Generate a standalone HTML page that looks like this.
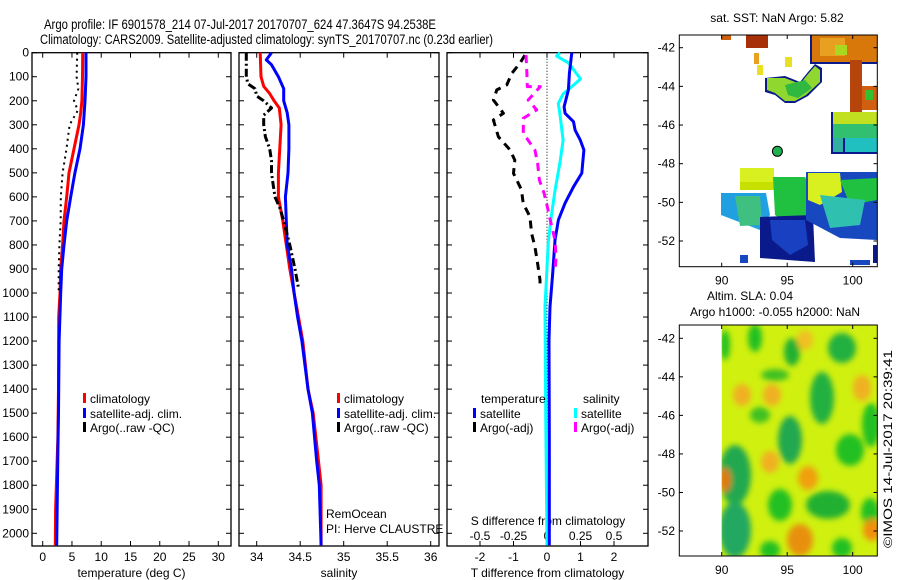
<!DOCTYPE html>
<html><head><meta charset="utf-8"><style>
body{margin:0;background:#fff;}
svg{display:block;font-family:"Liberation Sans",sans-serif;}
text{fill:#000;}
</style></head><body>
<svg id="c" width="900" height="580" viewBox="0 0 900 580">
<defs>
<filter id="bl" x="-50%" y="-50%" width="200%" height="200%"><feGaussianBlur stdDeviation="3"/></filter>
<clipPath id="clipB"><rect x="721.7" y="325" width="155.3" height="231"/></clipPath>
</defs>
<text x="44" y="29" font-size="13.5" textLength="392" lengthAdjust="spacingAndGlyphs">Argo profile: IF 6901578_214 07-Jul-2017 20170707_624 47.3647S 94.2538E</text>
<text x="40" y="44" font-size="13.5" textLength="453" lengthAdjust="spacingAndGlyphs">Climatology: CARS2009. Satellite-adjusted climatology: synTS_20170707.nc (0.23d earlier)</text>
<g id="plots"></g>
<!-- top map -->
<g>
<text x="777" y="22" font-size="12" text-anchor="middle">sat. SST: NaN Argo: 5.82</text>
<g>
<rect x="810" y="35" width="67" height="29" fill="#0a1a8a"/>
<rect x="812" y="35" width="65" height="27" fill="#d9780a"/>
<rect x="820" y="38" width="25" height="18" fill="#e8a020"/>
<rect x="835" y="45" width="12" height="10" fill="#a8d820"/>
<rect x="850" y="60" width="12" height="52" fill="#b5450a"/>
<rect x="862" y="86" width="15" height="24" fill="#d06010"/>
<rect x="865" y="90" width="8" height="10" fill="#30c030"/>
<rect x="746" y="35" width="22" height="13" fill="#a83008"/>
<rect x="721" y="35" width="10" height="5" fill="#d06010"/>
<rect x="754" y="53" width="5" height="11" fill="#e8a020"/>
<rect x="757" y="65" width="6" height="10" fill="#e8e020"/>
<rect x="785" y="57" width="7" height="10" fill="#e8e020"/>
<polygon points="765,78 785,76 800,82 808,72 815,64 822,68 822,82 808,96 795,103 785,103 775,95 765,92" fill="#0a1a8a"/>
<polygon points="767,78 785,78 800,84 808,74 815,66 820,70 820,82 806,95 795,101 785,101 775,93 767,90" fill="#90d830"/>
<polygon points="785,85 805,80 812,88 798,98 788,95" fill="#30b840"/>
<rect x="831" y="112" width="46" height="42" fill="#0a1a8a"/>
<rect x="833" y="112" width="44" height="12" fill="#c0e020"/>
<rect x="833" y="124" width="44" height="14" fill="#30c070"/>
<rect x="845" y="138" width="32" height="14" fill="#20c0c0"/>
<rect x="833" y="138" width="10" height="14" fill="#30b0a0"/>
<rect x="740" y="168" width="34" height="22" fill="#d8f020"/>
<rect x="740" y="182" width="34" height="8" fill="#c8e000"/>
<polygon points="773,177 805,177 812,190 813,220 790,225 775,215" fill="#20c040"/>
<polygon points="721,193 766,193 770,215 760,230 721,215" fill="#20a0e0"/>
<polygon points="735,196 760,196 762,225 740,226" fill="#40c080"/>
<polygon points="760,217 813,215 815,262 760,258" fill="#0a1a8a"/>
<polygon points="770,220 805,220 808,245 790,255 772,240" fill="#1840c0"/>
<polygon points="806,172 877,172 877,240 840,238 806,220" fill="#1848c0"/>
<polygon points="808,173 840,173 842,192 820,205 808,200" fill="#d8f020"/>
<polygon points="840,180 877,178 877,200 850,205" fill="#20c040"/>
<polygon points="820,195 865,200 860,225 830,228" fill="#30c0b0"/>
<rect x="740" y="255" width="8" height="8" fill="#1848c0"/>
<rect x="850" y="260" width="20" height="5" fill="#1848c0"/>
<rect x="873" y="245" width="4" height="18" fill="#0a1a8a"/>
</g>
<circle cx="777.4" cy="151.3" r="5" fill="#20b050" stroke="#000" stroke-width="1"/>
<rect x="679.3" y="35" width="198" height="231.7" fill="none" stroke="#000"/>
<g id="mapAxTop"></g>
</g>
<text x="750" y="300" font-size="12" text-anchor="middle">Altim. SLA: 0.04</text>
<text x="775" y="316" font-size="12" text-anchor="middle">Argo h1000: -0.055 h2000: NaN</text>
<!-- bottom map -->
<g>
<g clip-path="url(#clipB)">
<rect x="721.7" y="325" width="155.3" height="231" fill="#d0f010"/>
<g filter="url(#bl)">
<ellipse cx="725" cy="345" rx="5" ry="15" fill="#20c020"/>
<ellipse cx="755" cy="338" rx="7" ry="14" fill="#20c020"/>
<ellipse cx="792" cy="352" rx="8" ry="14" fill="#20b030"/>
<ellipse cx="842" cy="348" rx="14" ry="15" fill="#20b040"/>
<ellipse cx="775" cy="375" rx="14" ry="6" fill="#40c020"/>
<ellipse cx="822" cy="398" rx="12" ry="26" fill="#20b040"/>
<ellipse cx="871" cy="425" rx="9" ry="22" fill="#20c020"/>
<ellipse cx="790" cy="440" rx="12" ry="24" fill="#20a850"/>
<ellipse cx="850" cy="450" rx="14" ry="16" fill="#20c020"/>
<ellipse cx="735" cy="475" rx="16" ry="30" fill="#20a850"/>
<ellipse cx="735" cy="530" rx="16" ry="28" fill="#20a860"/>
<ellipse cx="780" cy="505" rx="12" ry="16" fill="#20c020"/>
<ellipse cx="828" cy="505" rx="22" ry="14" fill="#20b030"/>
<ellipse cx="870" cy="512" rx="9" ry="14" fill="#20c020"/>
<ellipse cx="770" cy="550" rx="10" ry="9" fill="#20c020"/>
<ellipse cx="842" cy="548" rx="10" ry="10" fill="#20c020"/>
<ellipse cx="760" cy="415" rx="10" ry="8" fill="#40c020"/>
<ellipse cx="725" cy="480" rx="6" ry="12" fill="#e07810"/>
<ellipse cx="800" cy="540" rx="13" ry="16" fill="#e89010"/>
<ellipse cx="808" cy="478" rx="10" ry="12" fill="#f0a010"/>
<ellipse cx="770" cy="462" rx="9" ry="11" fill="#f0b020"/>
<ellipse cx="862" cy="388" rx="9" ry="13" fill="#f0b020"/>
<ellipse cx="772" cy="395" rx="9" ry="11" fill="#f0b020"/>
<ellipse cx="872" cy="530" rx="9" ry="11" fill="#f09010"/>
<ellipse cx="742" cy="395" rx="9" ry="11" fill="#f0b020"/>
<ellipse cx="805" cy="340" rx="8" ry="10" fill="#f0c020"/>
</g>
</g>
<rect x="679.3" y="325" width="198" height="231" fill="none" stroke="#000"/>
<g id="mapAxBot"></g>
<text transform="translate(892,548) rotate(-90)" font-size="12" textLength="198" lengthAdjust="spacingAndGlyphs">©IMOS 14-Jul-2017 20:39:41</text>
</g>
</svg>
<script>
// ---- data ----
const depthTicks = [0,100,200,300,400,500,600,700,800,900,1000,1100,1200,1300,1400,1500,1600,1700,1800,1900,2000];
const tempTicks = [0,5,10,15,20,25,30];
const salTicks = [34,34.5,35,35.5,36];
const salTickLabels = ["34","34.5","35","35.5","36"];
const dTTicks = [-2,-1,0,1,2];
const dSTicks = [-0.5,-0.25,0,0.25,0.5];
const dSTickLabels = ["-0.5","-0.25","0","0.25","0.5"];

const tClimDepth = [0,100,200,250,300,400,500,600,700,800,900,1000,1100,1400,1600,1900,2050];
const tClimVal   = [6.83,6.8,6.7,6.5,6.2,5.35,4.5,4.1,3.64,3.4,3.07,2.95,2.73,2.7,2.6,2.2,2.15];
const tSatDepth = [0,100,200,300,400,500,600,700,800,900,1000,1200,1500,1650,2050];
const tSatVal   = [7.4,7.4,7.23,6.95,6.37,5.5,4.78,4.1,3.64,3.24,3.07,2.8,2.7,2.6,2.4];
const tArgoDepth = [0,100,150,200,240,300,400,500,600,700,800,900,990];
const tArgoVal   = [5.9,5.8,6.1,5.35,6.0,4.6,4.07,3.4,3.1,3.07,2.85,2.73,2.73];

const sClimDepth = [0,100,140,170,200,230,300,500,600,700,800,900,1000,1100,1200,1400,1500,1700,1800,2050];
const sClimVal   = [34.04,34.05,34.08,34.15,34.2,34.26,34.28,34.25,34.25,34.3,34.34,34.38,34.43,34.48,34.53,34.59,34.65,34.71,34.74,34.74];
const sSatDepth = [0,30,50,100,150,200,250,300,400,500,600,700,800,900,1000,1100,1200,1400,1500,1700,1800,2050];
const sSatVal   = [34.17,34.11,34.17,34.25,34.31,34.31,34.35,34.37,34.37,34.36,34.33,34.34,34.35,34.4,34.43,34.47,34.52,34.59,34.64,34.69,34.72,34.74];
const sArgoDepth = [0,100,130,150,180,200,230,260,300,350,400,450,500,550,600,650,700,800,900,980];
const sArgoVal   = [33.88,33.88,33.9,33.98,34.0,34.08,34.17,34.08,34.08,34.1,34.15,34.17,34.17,34.19,34.21,34.27,34.31,34.38,34.44,34.48];

const dTSatDepth = [0,86,155,225,252,287,322,363,405,501,558,626,696,780,918,1057,1195,1600,2050];
const dTSatVal   = [0.74,0.67,0.64,0.51,0.54,0.79,0.84,0.99,1.1,1.04,0.79,0.54,0.34,0.24,0.17,0.09,0.06,0.07,0.07];
const dTArgoDepth = [10,44,86,134,155,197,252,280,350,405,447,502,571,627,682,752,807,877,946,960];
const dTArgoVal   = [-0.66,-0.81,-1.05,-1.2,-1.5,-1.6,-1.3,-1.6,-1.45,-1.1,-0.96,-1.0,-0.76,-0.71,-0.51,-0.46,-0.36,-0.28,-0.21,-0.21];
const dSSatDepth = [0,14,42,109,134,172,212,258,364,456,574,669,786,920,1055,1500,2050];
const dSSatVal   = [0.097,0.072,0.16,0.25,0.2,0.12,0.084,0.097,0.12,0.097,0.06,0.035,0.01,-0.002,-0.015,-0.01,0.0];
const dSArgoDepth = [10,86,141,141,197,238,273,335,405,460,530,585,641,710,780,850,910];
const dSArgoVal   = [-0.157,-0.15,-0.147,-0.05,-0.14,-0.077,-0.177,-0.177,-0.09,-0.07,-0.057,-0.022,0.002,0.03,0.06,0.067,0.06];

const mapLatTicks = [-42,-44,-46,-48,-50,-52];
const mapLonTicks = [90,95,100];

// ---- axes ----
const NS="http://www.w3.org/2000/svg";
const Y0=52.7, YS=0.2403, YB=546;
const yD = d => Y0 + d*YS;
const P1={l:32,r:231}, P2={l:239,r:439}, P3={l:447,r:648};
const xT = v => 42.7 + v*5.853;
const xS = v => 256.7 + (v-34)*87;
const xDT = v => 547 + v*33.5;
const xDS = v => 547 + v*134;
const plots=document.getElementById('plots');
function mk(tag,attrs,parent){const e=document.createElementNS(NS,tag);for(const k in attrs)e.setAttribute(k,attrs[k]);(parent||plots).appendChild(e);return e;}
function txt(x,y,s,size,anchor,parent){const t=mk('text',{x:x,y:y,'font-size':size,'text-anchor':anchor||'start'},parent);t.textContent=s;return t;}

function frame(P,name,xticks,xfn,labels,xtitle){
  const g=mk('g',{});
  
  
  const r=mk('rect',{x:P.l,y:Y0,width:P.r-P.l,height:YB-Y0,fill:'none',stroke:'#000','stroke-width':1.3},g);
  
  
  depthTicks.forEach(d=>{const y=yD(d);
    mk('line',{x1:P.l,x2:P.l+5,y1:y,y2:y,stroke:'#000'},g);
    mk('line',{x1:P.r-5,x2:P.r,y1:y,y2:y,stroke:'#000'},g);});
  if(xticks){xticks.forEach((v,i)=>{const x=xfn(v);
    mk('line',{x1:x,x2:x,y1:YB,y2:YB-5,stroke:'#000'},g);
    mk('line',{x1:x,x2:x,y1:Y0,y2:Y0+5,stroke:'#000'},g);
    const t=txt(x,561,labels?labels[i]:String(v),12,'middle',g);
    
    });}
  const tt=txt((P.l+P.r)/2,577,xtitle,12,'middle',g);
  
  
  return g;
}
frame(P1,'temperature-panel',tempTicks,xT,null,'temperature (deg C)');
frame(P2,'salinity-panel',salTicks,xS,salTickLabels,'salinity');
const g3=frame(P3,'difference-panel',dTTicks,xDT,null,'T difference from climatology');
dSTicks.forEach((v,i)=>{const t=txt(xDS(v),540,dSTickLabels[i],12,'middle',g3);
  
  });
const sdt=txt(548,525,'S difference from climatology',12,'middle',g3);


mk('line',{x1:xDT(0),x2:xDT(0),y1:Y0,y2:YB,stroke:'#000','stroke-dasharray':'1,2'},g3);
depthTicks.forEach(d=>{const t=txt(29,yD(d)+4,String(d),12,'end');
  
  });

function series(dep,val,xf,color,w,dash,name){
  const pts=dep.map((d,i)=>xf(val[i]).toFixed(1)+','+yD(d).toFixed(1)).join(' ');
  const p=mk('polyline',{points:pts,fill:'none',stroke:color,'stroke-width':w,'stroke-dasharray':dash||'none','stroke-linejoin':'round'});
  
  
}
series(tClimDepth,tClimVal,xT,'#f00',3,null,'temp-climatology-line');
series(tSatDepth,tSatVal,xT,'#00f',3,null,'temp-satellite-line');
series(tArgoDepth,tArgoVal,xT,'#000',2,'2,4','temp-argo-line');
series(sClimDepth,sClimVal,xS,'#f00',3,null,'sal-climatology-line');
series(sSatDepth,sSatVal,xS,'#00f',3,null,'sal-satellite-line');
series(sArgoDepth,sArgoVal,xS,'#000',3,'8,3,2,3','sal-argo-line');
series(dSSatDepth,dSSatVal,xDS,'#0ff',3,null,'dsal-satellite-line');
series(dTSatDepth,dTSatVal,xDT,'#00f',3,null,'dtemp-satellite-line');
series(dTArgoDepth,dTArgoVal,xDT,'#000',3,'8,6','dtemp-argo-line');
series(dSArgoDepth,dSArgoVal,xDS,'#f0f',3,'8,6','dsal-argo-line');

function legend(x,y,color,label,name){
  const g=mk('g',{});
  
  
  mk('rect',{x:x,y:y-10,width:3,height:10,fill:color},g);
  txt(x+7,y,label,12,'start',g);
}
legend(83,403,'#f00','climatology','legend-temp-climatology');
legend(83,418,'#00f','satellite-adj. clim.','legend-temp-satellite');
legend(83,432,'#000','Argo(..raw -QC)','legend-temp-argo');
legend(337,403,'#f00','climatology','legend-sal-climatology');
legend(337,418,'#00f','satellite-adj. clim.','legend-sal-satellite');
legend(337,432,'#000','Argo(..raw -QC)','legend-sal-argo');
const lt=txt(481,403,'temperature',12,'start');  
const ls=txt(583,403,'salinity',12,'start');  
legend(473,418,'#00f','satellite','legend-dtemp-satellite');
legend(473,432,'#000','Argo(-adj)','legend-dtemp-argo');
legend(574,418,'#0ff','satellite','legend-dsal-satellite');
legend(574,432,'#f0f','Argo(-adj)','legend-dsal-argo');
const r1=txt(326,518,'RemOcean',12,'start');  
const r2=txt(326,533,'PI: Herve CLAUSTRE',12,'start');  

// map axes
function mapAxes(gid,top,bot,lat42,lat52){
  const g=document.getElementById(gid);
  const yl=v=>lat42+(v+42)/(-10)*(lat52-lat42);
  const xl=v=>721.7+(v-90)*13.1;
  mapLatTicks.forEach(v=>{const y=yl(v);
    mk('line',{x1:679.3,x2:683,y1:y,y2:y,stroke:'#000'},g);
    mk('line',{x1:873.5,x2:877.3,y1:y,y2:y,stroke:'#000'},g);
    const t=txt(675,y+4,String(v),12,'end',g);
    
    });
  mapLonTicks.forEach(v=>{const x=xl(v);
    mk('line',{x1:x,x2:x,y1:bot,y2:bot-4,stroke:'#000'},g);
    mk('line',{x1:x,x2:x,y1:top,y2:top+4,stroke:'#000'},g);
    const t=txt(x,bot+18,String(v),12,'middle',g);
    
    });
}
mapAxes('mapAxTop',35,266.7,47.7,241);
mapAxes('mapAxBot',325,556,338.3,531);
</script>
</body></html>
